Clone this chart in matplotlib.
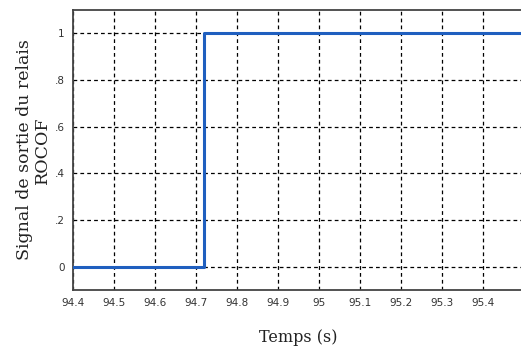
import numpy as np
import matplotlib.pyplot as plt

# signal de sortie du relais ROCOF
temps = [94.4, 94.72, 94.72, 95.5]
signal = [0, 0, 1, 1]
x_ticks = [94.4, 94.5, 94.6, 94.7, 94.8, 94.9, 95.0, 95.1, 95.2, 95.3, 95.4]
x_labels = ['94.4', '94.5', '94.6', '94.7', '94.8', '94.9', '95', '95.1', '95.2', '95.3', '95.4']
y_ticks = [0, 0.2, 0.4, 0.6, 0.8, 1.0]
y_labels = ['0', '.2', '.4', '.6', '.8', '1']

fig = plt.figure(figsize=(5.21, 3.52), dpi=100)
ax = fig.add_axes([73 / 521, 1 - 290 / 352, 451 / 521, 280 / 352])

ax.plot(temps, signal, color='#1f5fbf', linewidth=2.2, zorder=3)

ax.set_xlim(94.4, 95.5)
ax.set_ylim(-0.1, 1.1)
ax.set_xticks(x_ticks)
ax.set_xticklabels(x_labels)
ax.set_yticks(y_ticks)
ax.set_yticklabels(y_labels)
ax.tick_params(length=0, labelsize=7.5, pad=6, colors='#333333')
ax.grid(True, color='black', linestyle=(0, (3, 2.5)), linewidth=0.9)

for s in ax.spines.values():
    s.set_color('#444444')
    s.set_linewidth(1.3)
ax.spines['right'].set_visible(False)

ax.set_xlabel('Temps (s)', fontsize=11.5, family='DejaVu Serif', labelpad=15, color='#222222')
ax.set_ylabel('Signal de sortie du relais\nROCOF', fontsize=12.5, family='DejaVu Serif',
              labelpad=3, color='#222222', linespacing=1.05)

fig.savefig('out.png', dpi=100)
